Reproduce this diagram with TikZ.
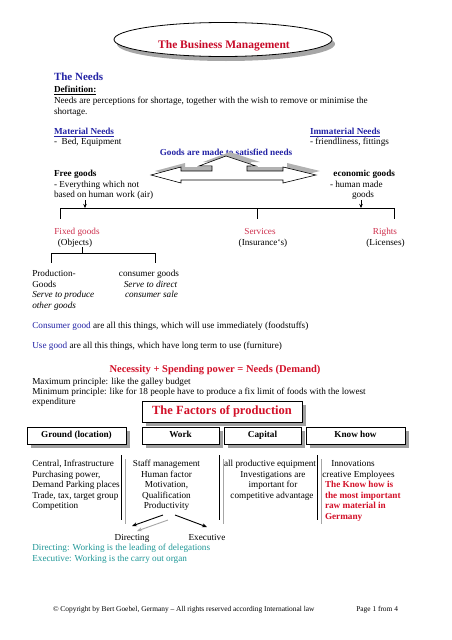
\documentclass[tikz,border=0pt]{standalone}
\usepackage{fontspec}
\setmainfont{Liberation Serif}
\usetikzlibrary{shadows,arrows.meta,shapes.geometric}
\definecolor{titlered}{RGB}{200,10,40}
\definecolor{hred}{RGB}{210,16,40}
\definecolor{crim}{RGB}{205,45,75}
\definecolor{hblue}{RGB}{35,35,165}
\definecolor{teal2}{RGB}{30,150,150}
\newcommand\bodyf{\fontsize{9.2}{10.6}\selectfont}
\newcommand\footf{\fontsize{7.4}{9}\selectfont}
\begin{document}
\begin{tikzpicture}[x=1pt,y=-1pt,
  every node/.style={inner sep=0pt,outer sep=0pt},
  tl/.style={anchor=base west,font=\bodyf},
  tc/.style={anchor=base,font=\bodyf},
  tr/.style={anchor=base east,font=\bodyf},
  hd/.style={anchor=base west,font=\fontsize{11}{13}\selectfont\bfseries,text=hblue},
  fbox/.style={draw,line width=0.9pt,fill=white,font=\bodyf\bfseries,
    text height=6.4pt,text depth=2.1pt,
    drop shadow={shadow xshift=3.5pt,shadow yshift=-3.5pt,fill=gray!75,opacity=1}},
  treeline/.style={line width=0.7pt},
  sepb/.style={line width=1pt,black},
  sepg/.style={line width=1pt,gray!70}]
\useasboundingbox (0,0) rectangle (452,640);

% title ellipse
\fill[gray!70] (226,44) ellipse [x radius=109,y radius=17];
\node[ellipse,draw,line width=0.8pt,fill=white,minimum width=218pt,minimum height=34pt] (tell) at (223,39.5) {};
\node[anchor=base,font=\fontsize{11.5}{13}\selectfont\bfseries,text=titlered] (title) at (224,48) {The Business Management};

% needs
\node[hd] (needs) at (54,80.5) {The Needs};
\node[tl,font=\bodyf\bfseries] (def) at (54,92.5) {\underline{Definition:}};
\node[tl] (d1) at (54,103.5) {Needs are perceptions for shortage, together with the wish to remove or minimise the};
\node[tl] (d2) at (54,114) {shortage.};

\node[tl,font=\bodyf\bfseries,text=hblue] (mat) at (54,134.5) {\underline{Material Needs}};
\node[tl] (mat1) at (54,144.5) {-\ \ Bed, Equipment};
\node[tl,font=\bodyf\bfseries,text=hblue] (imm) at (310,134.5) {\underline{Immaterial Needs}};
\node[tl] (imm1) at (310,144.5) {- friendliness, fittings};
\node[tc,font=\bodyf\bfseries,text=hblue] (goods) at (226,155) {Goods are made to satisfied needs};

% double arrow
\begin{scope}
\fill[gray!60] (155,171) -- (185,163) -- (185,167) -- (216,167) -- (216,162) -- (203,162) -- (230,152) -- (260,162) -- (251,162) -- (251,167) -- (287,167) -- (287,163) -- (320,171) -- (287,179) -- (185,179) -- cycle;
\draw[line width=0.6pt,fill=white] (151,175) -- (181,167) -- (181,171) -- (212,171) -- (212,166) -- (199,166) -- (226,156) -- (256,166) -- (247,166) -- (247,171) -- (283,171) -- (283,167) -- (316,175) -- (283,183) -- (283,180) -- (181,180) -- (181,183) -- cycle;
\end{scope}

\node[tl,font=\bodyf\bfseries] (free) at (54,176.5) {Free goods};
\node[tl] (free1) at (54,187.5) {- Everything which not};
\node[tl] (free2) at (54,197.5) {based on human work (air)};
\node[tr,font=\bodyf\bfseries] (eco) at (395,176.5) {economic goods};
\node[tl] (eco1) at (330,187.5) {- human made};
\node[tc] (eco2) at (363,197.5) {goods};

% tree
\coordinate (fa) at (85,200); \coordinate (fb) at (85,208);
\coordinate (ea) at (361,200); \coordinate (eb) at (361,208);
\coordinate (hl) at (60,208); \coordinate (hr) at (394,208); \coordinate (hm) at (257,208);
\coordinate (tl1) at (60,219); \coordinate (tm1) at (257,219); \coordinate (tr1) at (394,219);
\draw[treeline] (hl) -- (hr);
\draw[treeline] (hl) -- (tl1); \draw[treeline] (hm) -- (tm1); \draw[treeline] (hr) -- (tr1);
\draw[line width=0.6pt,-{Stealth[length=4pt,width=3.5pt]}] (fa) -- (fb);
\draw[line width=0.6pt,-{Stealth[length=4pt,width=3.5pt]}] (ea) -- (eb);

\node[tc,text=crim] (fix) at (77,234) {Fixed goods};
\node[tc] (fix1) at (75,245) {(Objects)};
\node[tc,text=crim] (serv) at (260,234) {Services};
\node[tc] (serv1) at (263,245) {(Insurance`s)};
\node[tc,text=crim] (rig) at (385,234) {Rights};
\node[tc] (rig1) at (385.5,245) {(Licenses)};

\coordinate (sa) at (82,247); \coordinate (sb) at (82,253);
\coordinate (sl) at (51,253); \coordinate (sr) at (155,253);
\coordinate (sl2) at (51,263); \coordinate (sr2) at (155,263);
\draw[treeline] (sa) -- (sb); \draw[treeline] (sl) -- (sr);
\draw[treeline] (sl) -- (sl2); \draw[treeline] (sr) -- (sr2);

\node[tl] (p1) at (32.3,276.5) {Production-};
\node[tl] (p2) at (32.3,287) {Goods};
\node[tl,font=\bodyf\itshape] (p3) at (32.3,297.5) {Serve to produce};
\node[tl,font=\bodyf\itshape] (p4) at (32.3,308) {other goods};
\node[tc] (c1) at (149,276.5) {consumer goods};
\node[tc,font=\bodyf\itshape] (c2) at (150.5,287) {Serve to direct};
\node[tc,font=\bodyf\itshape] (c3) at (151.5,297.5) {consumer sale};

\node[tl] (cg) at (32.3,328.5) {\textcolor{hblue}{Consumer good} are all this things, which will use immediately (foodstuffs)};
\node[tl] (ug) at (32.3,348.5) {\textcolor{hblue}{Use good} are all this things, which have long term to use (furniture)};

\node[tc,font=\fontsize{10.5}{12}\selectfont\bfseries,text=hred] (nec) at (215,372) {Necessity + Spending power = Needs (Demand)};
\node[tl] (max) at (32.3,384.5) {Maximum principle: like the galley budget};
\node[tl] (min) at (32.3,394.5) {Minimum principle: like for 18 people have to produce a fix limit of foods with the lowest};
\node[tl] (exp) at (32.3,404.5) {expenditure};

% factors
\node[fbox,minimum width=160pt,minimum height=21pt,font=\fontsize{12.5}{14}\selectfont\bfseries,text height=8.6pt,text depth=2.8pt,text=hred] (fac) at (222,411.5) {The Factors of production};
\node[fbox,minimum width=99pt,minimum height=17pt] (gr) at (76.5,435.5) {Ground (location)};
\node[fbox,minimum width=77pt,minimum height=17pt] (wk) at (180.5,435.5) {Work};
\node[fbox,minimum width=77pt,minimum height=17pt] (cap) at (262.5,435.5) {Capital};
\node[fbox,minimum width=99pt,minimum height=17pt] (kh) at (355.5,435.5) {Know how};

% separators
\foreach \x/\n in {121/a,219/b,317/c}{
  \coordinate (g1\n) at (\x+4,459); \coordinate (g2\n) at (\x+4,524);
  \coordinate (b1\n) at (\x,455); \coordinate (b2\n) at (\x,520);
  \draw[sepg] (g1\n) -- (g2\n);
  \draw[sepb] (b1\n) -- (b2\n);
}

% columns
\node[tl] (a1) at (32.3,466.5) {Central, Infrastructure};
\node[tl] (a2) at (32.3,477) {Purchasing power,};
\node[tl] (a3) at (32.3,487.5) {Demand Parking places};
\node[tl] (a4) at (32.3,498) {Trade, tax, target group};
\node[tl] (a5) at (32.3,508.5) {Competition};

\node[tc] (w1) at (166.5,466.5) {Staff management};
\node[tc] (w2) at (166.5,477) {Human factor};
\node[tc] (w3) at (166.5,487.5) {Motivation,};
\node[tc] (w4) at (166.5,498) {Qualification};
\node[tc] (w5) at (166.5,508.5) {Productivity};

\node[tc] (k1) at (270,466.5) {all productive equipment};
\node[tc] (k2) at (273,477) {Investigations are};
\node[tc] (k3) at (273,487.5) {important for};
\node[tc] (k4) at (272,498) {competitive advantage};

\node[tc] (n1) at (353,466.5) {Innovations};
\node[tc] (n2) at (358.5,477) {creative Employees};
\node[tl,font=\bodyf\bfseries,text=hred] (n3) at (325,487.5) {The Know how is};
\node[tl,font=\bodyf\bfseries,text=hred] (n4) at (325,498) {the most important};
\node[tl,font=\bodyf\bfseries,text=hred] (n5) at (325,508.5) {raw material in};
\node[tl,font=\bodyf\bfseries,text=hred] (n6) at (325,519) {Germany};

% directing / executive
\node[tc] (dir) at (132,540) {Directing};
\node[tc] (exe) at (207,540) {Executive};
\coordinate (la) at (163,515); \coordinate (lb) at (132,526);
\coordinate (lga) at (168,520); \coordinate (lgb) at (137,531);
\coordinate (ra) at (175,515); \coordinate (rb) at (207,527);
\draw[gray!70,line width=0.9pt,-{Stealth[length=5pt,width=4pt]}] (lga) -- (lgb);
\draw[line width=0.9pt,-{Stealth[length=5pt,width=4pt]}] (la) -- (lb);
\draw[line width=0.9pt,-{Stealth[length=5pt,width=4pt]}] (ra) -- (rb);

\node[tl,text=teal2] (dd) at (32.3,550) {Directing: Working is the leading of delegations};
\node[tl,text=teal2] (ed) at (32.3,561) {Executive: Working is the carry out organ};

% footer
\node[anchor=base west,font=\footf] (copy) at (53,611) {© Copyright by Bert Goebel, Germany – All rights reserved according International law};
\node[anchor=base east,font=\footf] (page) at (398,611) {Page 1 from 4};
\end{tikzpicture}
\end{document}
